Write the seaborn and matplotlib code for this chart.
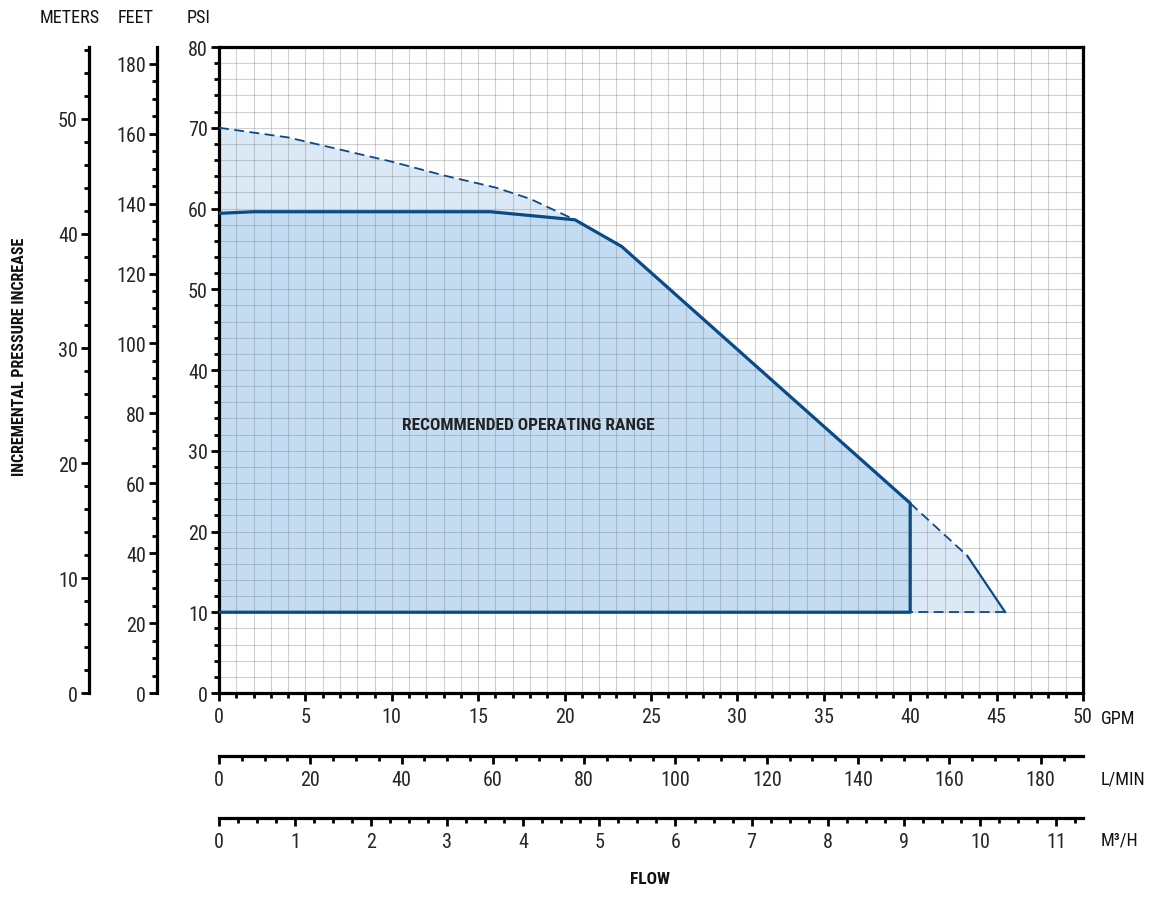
import os
import matplotlib
matplotlib.use('Agg')
import matplotlib.pyplot as plt
import matplotlib.font_manager as fm
from matplotlib.ticker import MultipleLocator
import seaborn as sns

# Pump curve, GPM vs PSI
# outer envelope (dashed part, max pressure)
env_gpm = [0, 4, 7, 10, 13, 16, 18, 20.6]
env_psi = [70, 68.8, 67.3, 65.8, 64.1, 62.6, 61.2, 58.6]

# recommended curve (solid)
rec_gpm = [0, 2, 15.7, 20.6, 23.3, 40]
rec_psi = [59.4, 59.6, 59.6, 58.6, 55.3, 23.5]

# tail past the recommended range
tail_dash_gpm = [40, 43.3]
tail_dash_psi = [23.5, 17]
tail_solid_gpm = [43.3, 45.5]
tail_solid_psi = [17, 10]

min_psi = 10
max_rec_gpm = 40

# unit conversions for the extra axes
PSI_TO_FT = 2.31
PSI_TO_M = 0.70307
GPM_TO_LMIN = 3.78541
GPM_TO_M3H = 0.227125

line_col = '#0a4a87'
light_fill = '#dbe9f7'
dark_fill = '#c3dcf2'


def pick_condensed():
    # (regular stems, bold stems, font size) in order of preference
    prefs = [
        (['notosans-extracondensed'], ['notosans-extracondensedbold'], 16),
        (['notosans-condensed'], ['notosans-condensedbold'], 14.5),
        (['liberationsansnarrow-regular'], ['liberationsansnarrow-bold'], 15),
        (['robotocondensed-regular'], ['robotocondensed-bold'], 14.5),
        (['opensans-condensedlight', 'opensanscondensed-light'], ['opensans-condensedbold', 'opensanscondensed-bold'], 14.5),
        (['dejavusanscondensed'], ['dejavusanscondensed-bold'], 12.5),
    ]
    files = {os.path.splitext(os.path.basename(e.fname))[0].lower(): e.fname
             for e in fm.fontManager.ttflist}
    for regs, bolds, size in prefs:
        reg = next((files[s] for s in regs if s in files), None)
        if reg is None:
            continue
        bold = next((files[s] for s in bolds if s in files), reg)
        for fname, w in [(reg, 400), (bold, 700)]:
            fm.fontManager.ttflist.append(fm.FontEntry(
                fname=fname, name='CondFace', style='normal', variant='normal',
                weight=w, stretch='normal', size='scalable'))
        return 'CondFace', size
    return 'DejaVu Sans', 12


sns.set_theme(style='white')
font, fs = pick_condensed()
plt.rcParams['font.family'] = [font, 'DejaVu Sans']
plt.rcParams['text.color'] = '#111111'

W, H = 1149, 904
fig = plt.figure(figsize=(W / 100, H / 100), dpi=100)

# main axes box in pixels: x 219..1083, y 48..694
x0, x1, y0, y1 = 219, 1083, 48, 694
ax = fig.add_axes([x0 / W, 1 - y1 / H, (x1 - x0) / W, (y1 - y0) / H])
ax.set_xlim(0, 50)
ax.set_ylim(0, 80)

# fills
outer_x = env_gpm + rec_gpm[4:] + tail_dash_gpm[1:] + tail_solid_gpm[1:] + [0]
outer_y = env_psi + rec_psi[4:] + tail_dash_psi[1:] + tail_solid_psi[1:] + [min_psi]
ax.fill(outer_x, outer_y, color=light_fill, lw=0, zorder=1)
ax.fill(rec_gpm + [max_rec_gpm, 0], rec_psi + [min_psi, min_psi], color=dark_fill, lw=0, zorder=1)

# grid over the fills
ax.set_axisbelow('line')
ax.xaxis.set_major_locator(MultipleLocator(5))
ax.xaxis.set_minor_locator(MultipleLocator(1))
ax.yaxis.set_major_locator(MultipleLocator(10))
ax.yaxis.set_minor_locator(MultipleLocator(2))
ax.grid(which='both', color='#7a7a7a', alpha=0.34, linewidth=0.8)

# curves
dash = (0, (5.5, 3))
sns.lineplot(x=env_gpm, y=env_psi, ax=ax, color=line_col, linewidth=1.3,
             linestyle=dash, sort=False, estimator=None, zorder=3)
sns.lineplot(x=rec_gpm + [max_rec_gpm, 0], y=rec_psi + [min_psi, min_psi], ax=ax,
             color=line_col, linewidth=2.3, sort=False, estimator=None, zorder=4)
sns.lineplot(x=tail_dash_gpm, y=tail_dash_psi, ax=ax, color=line_col, linewidth=1.3,
             linestyle=dash, sort=False, estimator=None, zorder=3)
sns.lineplot(x=tail_solid_gpm, y=tail_solid_psi, ax=ax, color=line_col, linewidth=1.6,
             sort=False, estimator=None, zorder=3)
sns.lineplot(x=[tail_solid_gpm[-1], max_rec_gpm], y=[min_psi, min_psi], ax=ax,
             color=line_col, linewidth=1.3, linestyle=dash, sort=False, estimator=None, zorder=3)

ax.text(17.9, 33.3, 'RECOMMENDED OPERATING RANGE', ha='center', va='center',
        fontsize=fs * 0.86, fontweight='bold', color='#222222', zorder=5)

# spines and ticks
for s in ax.spines.values():
    s.set_visible(True)
    s.set_linewidth(2.3)
    s.set_color('black')
ax.tick_params(which='major', length=6, width=2, color='black', labelsize=fs, pad=2,
               direction='out', bottom=True, left=True)
ax.tick_params(which='minor', length=3.5, width=2, color='black', direction='out',
               bottom=True, left=True)
ax.tick_params(axis='x', which='major', pad=4)
ax.set_xlabel('')
ax.set_ylabel('')


def style_sec(sec, side, major, minor):
    axis = sec.yaxis if side == 'left' else sec.xaxis
    axis.set_major_locator(MultipleLocator(major))
    axis.set_minor_locator(MultipleLocator(minor))
    sec.spines[side].set_linewidth(2.3)
    sec.spines[side].set_color('black')
    sec.tick_params(which='major', length=6, width=2, color='black', labelsize=fs,
                    pad=2 if side == 'left' else 4)
    sec.tick_params(which='minor', length=3.5, width=2, color='black')


feet = ax.secondary_yaxis((157 - x0) / (x1 - x0),
                          functions=(lambda p: p * PSI_TO_FT, lambda f: f / PSI_TO_FT))
style_sec(feet, 'left', 20, 5)
meters = ax.secondary_yaxis((89 - x0) / (x1 - x0),
                            functions=(lambda p: p * PSI_TO_M, lambda m: m / PSI_TO_M))
style_sec(meters, 'left', 10, 2)

lmin = ax.secondary_xaxis((y1 - 757) / (y1 - y0),
                          functions=(lambda g: g * GPM_TO_LMIN, lambda l: l / GPM_TO_LMIN))
style_sec(lmin, 'bottom', 20, 5)
m3h = ax.secondary_xaxis((y1 - 819) / (y1 - y0),
                         functions=(lambda g: g * GPM_TO_M3H, lambda m: m / GPM_TO_M3H))
style_sec(m3h, 'bottom', 1, 0.25)


def ftext(x, y, s, size=fs, **kw):
    fig.text(x / W, 1 - y / H, s, fontsize=size, **kw)


unit_fs = fs * 0.9
ftext(70, 18, 'METERS', unit_fs, ha='center', va='center')
ftext(136, 18, 'FEET', unit_fs, ha='center', va='center')
ftext(199, 18, 'PSI', unit_fs, ha='center', va='center')
ftext(1101, 719, 'GPM', unit_fs, ha='left', va='center')
ftext(1101, 780, 'L/MIN', unit_fs, ha='left', va='center')
ftext(1101, 841, 'M³/H', unit_fs, ha='left', va='center')
ftext(650, 880, 'FLOW', fs * 0.86, ha='center', va='center', fontweight='bold')
ftext(20, 357, 'INCREMENTAL PRESSURE INCREASE', fs * 0.8, ha='center', va='center',
      rotation=90, fontweight='bold')

fig.savefig('out.png', dpi=100)
